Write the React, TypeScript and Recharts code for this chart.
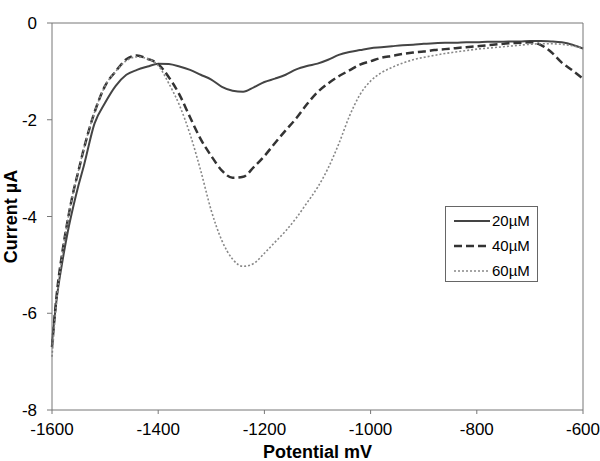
import {
    LineChart,
    Line,
    XAxis,
    YAxis,
    Legend,
    ReferenceLine,
} from "recharts";

// potential (mV)
const potentials = [
    -1600, -1590, -1580, -1570, -1560, -1550, -1540, -1520, -1500, -1480,
    -1460, -1440, -1420, -1400, -1380, -1360, -1340, -1320, -1300, -1280,
    -1260, -1240, -1220, -1200, -1180, -1160, -1140, -1120, -1100, -1080,
    -1060, -1040, -1020, -1000, -980, -960, -940, -920, -900, -880, -860,
    -840, -820, -800, -780, -760, -740, -720, -700, -680, -660, -640, -620,
    -600,
];

// current (µA)
const current20 = [
    -6.6, -5.6, -4.9, -4.3, -3.8, -3.35, -2.95, -2.08, -1.65, -1.3, -1.07,
    -0.97, -0.9, -0.84, -0.85, -0.9, -0.97, -1.07, -1.17, -1.32, -1.4, -1.42,
    -1.33, -1.22, -1.15, -1.07, -0.96, -0.89, -0.84, -0.76, -0.66, -0.6,
    -0.56, -0.52, -0.5, -0.48, -0.46, -0.45, -0.43, -0.42, -0.41, -0.41,
    -0.4, -0.4, -0.39, -0.39, -0.38, -0.38, -0.37, -0.37, -0.38, -0.4,
    -0.45, -0.53,
];

const current40 = [
    -6.7, -5.5, -4.7, -4.05, -3.5, -3.05, -2.6, -1.85, -1.3, -1.0, -0.75,
    -0.67, -0.74, -0.85, -1.12, -1.48, -1.95, -2.4, -2.75, -3.05, -3.2,
    -3.18, -2.98, -2.75, -2.48, -2.22, -1.97, -1.68, -1.43, -1.25, -1.1,
    -0.98, -0.86, -0.79, -0.72, -0.68, -0.64, -0.61, -0.59, -0.56, -0.54,
    -0.52, -0.5, -0.48, -0.46, -0.44, -0.42, -0.41, -0.4, -0.45, -0.6,
    -0.82, -0.98, -1.15,
];

const current60 = [
    -6.9, -5.6, -4.75, -4.05, -3.5, -3.05, -2.6, -1.85, -1.3, -1.0, -0.78,
    -0.7, -0.74, -0.88, -1.25, -1.7, -2.3, -3.05, -3.88, -4.5, -4.88, -5.03,
    -4.97, -4.76, -4.53, -4.3, -4.03, -3.72, -3.4, -3.0, -2.5, -1.93, -1.48,
    -1.2, -1.03, -0.92, -0.83, -0.76, -0.71, -0.67, -0.63, -0.6, -0.57,
    -0.54, -0.52, -0.5, -0.48, -0.46, -0.44, -0.43, -0.43, -0.44, -0.47,
    -0.52,
];

const xTicks = [-1600, -1400, -1200, -1000, -800, -600];
const yTicks = [0, -2, -4, -6, -8];

const series = [
    { key: "c20", name: "20µM", color: "#444", width: 2, dash: undefined },
    { key: "c40", name: "40µM", color: "#333", width: 2.5, dash: "8 4" },
    { key: "c60", name: "60µM", color: "#888", width: 1.6, dash: "2 2" },
];

const data = potentials.map((p, i) => ({
    potential: p,
    c20: current20[i],
    c40: current40[i],
    c60: current60[i],
}));

const font = "'Liberation Sans', Arial, sans-serif";

const renderLegend = () => (
    <div
        style={{
            border: "1px solid #666",
            background: "#fff",
            width: 93,
            height: 76,
            boxSizing: "border-box",
            paddingTop: 1,
            fontFamily: font,
        }}
    >
        {series.map((s) => (
            <div
                key={s.key}
                style={{ display: "flex", alignItems: "center", height: 25 }}
            >
                <svg width={46} height={10}>
                    <line
                        x1={8}
                        x2={44}
                        y1={5}
                        y2={5}
                        stroke={s.color}
                        strokeWidth={s.width}
                        strokeDasharray={s.dash}
                    />
                </svg>
                <span style={{ fontSize: 15, color: "#000" }}>{s.name}</span>
            </div>
        ))}
    </div>
);

// rotated y axis title, centred on the plot height
const YTitle = ({ viewBox }: any) => {
    const cx = 17;
    const cy = viewBox.y + viewBox.height / 2;
    return (
        <text
            x={cx}
            y={cy}
            transform={`rotate(-90 ${cx} ${cy})`}
            textAnchor="middle"
            fill="#000"
            fontSize={18}
            fontWeight="bold"
            fontFamily={font}
        >
            Current µA
        </text>
    );
};

export default function App() {
    return (
        <div
            style={{
                position: "absolute",
                left: 0,
                top: 0,
                width: 600,
                height: 461,
                background: "#fff",
            }}
        >
            <LineChart
                width={600}
                height={461}
                data={data}
                margin={{ top: 23, right: 17, left: 0, bottom: 1 }}
                style={{ fontFamily: font }}
            >
                <XAxis
                    dataKey="potential"
                    type="number"
                    domain={[-1600, -600]}
                    ticks={xTicks}
                    tickSize={4}
                    tickMargin={9}
                    height={50}
                    stroke="#777"
                    tick={{ fill: "#000", fontSize: 17 }}
                    label={{
                        value: "Potential mV",
                        position: "insideBottom",
                        offset: 2,
                        fill: "#000",
                        fontSize: 18,
                        fontWeight: "bold",
                    }}
                />
                <YAxis
                    type="number"
                    domain={[-8, 0]}
                    ticks={yTicks}
                    tickSize={5}
                    tickMargin={10}
                    width={52}
                    stroke="#777"
                    tick={{ fill: "#000", fontSize: 17 }}
                    label={<YTitle />}
                />
                <ReferenceLine y={0} stroke="#777" />
                <ReferenceLine x={-600} stroke="#777" />
                <Legend
                    layout="vertical"
                    align="center"
                    verticalAlign="middle"
                    content={renderLegend}
                    wrapperStyle={{ left: 445, top: 206, width: 93 }}
                />
                {series.map((s) => (
                    <Line
                        key={s.key}
                        dataKey={s.key}
                        name={s.name}
                        type="monotone"
                        stroke={s.color}
                        strokeWidth={s.width}
                        strokeDasharray={s.dash}
                        dot={false}
                        isAnimationActive={false}
                    />
                ))}
            </LineChart>
        </div>
    );
}
